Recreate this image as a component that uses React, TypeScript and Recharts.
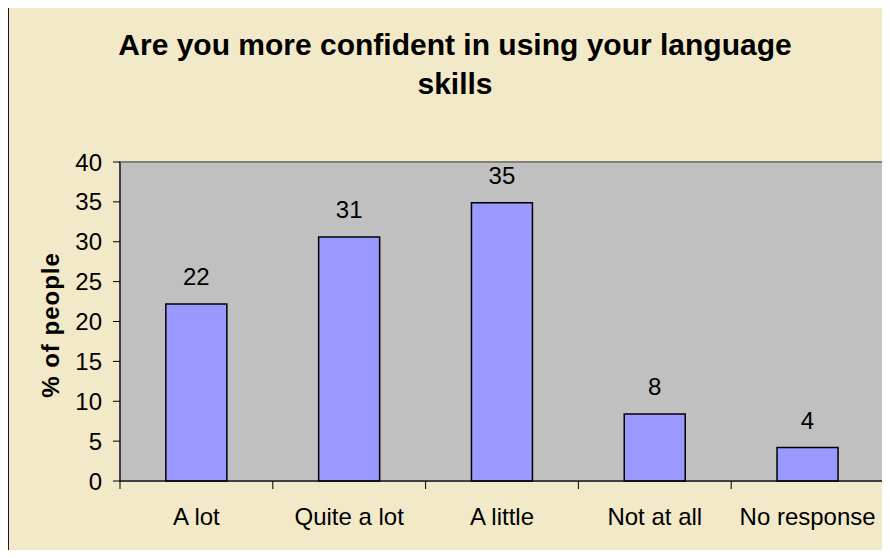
import React from "react";
import {
  BarChart,
  Bar,
  XAxis,
  YAxis,
  CartesianGrid,
  ReferenceArea,
  LabelList,
} from "recharts";

const categories = ["A lot", "Quite a lot", "A little", "Not at all", "No response"];
const percentages = [22.2, 30.6, 34.9, 8.4, 4.2];
const yTicks = [0, 5, 10, 15, 20, 25, 30, 35, 40];

const data = categories.map((name, i) => ({ name, value: percentages[i] }));

const W = 890;
const H = 558;
const margin = { top: 162, right: 6, bottom: 37, left: 60 };
const Y_AXIS_W = 60;
const X_AXIS_H = 40;
const plotW = W - margin.left - margin.right - Y_AXIS_W;
const bandW = plotW / categories.length;

const FONT = "'Liberation Sans', Arial, Helvetica, sans-serif";
const CREAM = "#F2E9C8";
const TEXT_SIZE = 24;

function CategoryTick(props: any) {
  const { x, y, payload, index } = props;
  const left = x - bandW / 2;
  const right = x + bandW / 2;
  return (
    <g>
      <line x1={left} y1={y} x2={left} y2={y + 8} stroke="#000" strokeWidth={1} />
      {index === categories.length - 1 && (
        <line x1={right} y1={y} x2={right} y2={y + 8} stroke="#000" strokeWidth={1} />
      )}
      <text
        x={x}
        y={y + 44}
        textAnchor="middle"
        fill="#000"
        fontSize={TEXT_SIZE}
        fontFamily={FONT}
      >
        {payload.value}
      </text>
    </g>
  );
}

export default function App() {
  return (
    <div
      style={{
        position: "relative",
        width: W,
        height: H,
        margin: -8,
        overflow: "hidden",
        background: "#fff",
        fontFamily: FONT,
      }}
    >
      <div
        style={{
          position: "absolute",
          left: 7,
          top: 5,
          width: 920,
          height: 600,
          background: CREAM,
          border: "2px solid #1a1a1a",
        }}
      />
      <div
        style={{
          position: "absolute",
          left: 0,
          width: W,
          top: 25,
          textAlign: "center",
          paddingLeft: 20,
          boxSizing: "border-box",
          fontWeight: "bold",
          fontSize: 30,
          lineHeight: "39px",
          color: "#000",
        }}
      >
        Are you more confident in using your language
        <br />
        skills
      </div>
      <div
        style={{
          position: "absolute",
          left: 51,
          top: 325,
          transform: "translate(-50%, -50%) rotate(-90deg)",
          whiteSpace: "nowrap",
          fontWeight: "bold",
          fontSize: 24,
          letterSpacing: 1,
          color: "#000",
        }}
      >
        % of people
      </div>
      <div style={{ position: "absolute", left: 0, top: 0 }}>
        <BarChart width={W} height={H} data={data} margin={margin} barCategoryGap="30%">
          <CartesianGrid horizontal={false} vertical={false} fill="#C0C0C0" />
          <ReferenceArea
            y1={0}
            y2={40}
            fill="none"
            stroke="#808080"
            strokeWidth={2}
            ifOverflow="visible"
          />
          <XAxis
            dataKey="name"
            height={X_AXIS_H}
            tickLine={false}
            tickSize={0}
            tickMargin={0}
            axisLine={{ stroke: "#000", strokeWidth: 1 }}
            tick={<CategoryTick />}
            interval={0}
          />
          <YAxis
            width={Y_AXIS_W}
            domain={[0, 40]}
            ticks={yTicks}
            interval={0}
            tickSize={7}
            tickMargin={11}
            axisLine={{ stroke: "#000", strokeWidth: 1 }}
            tickLine={{ stroke: "#000" }}
            tick={{ fill: "#000", fontSize: TEXT_SIZE, fontFamily: FONT }}
          />
          <Bar
            dataKey="value"
            fill="#9999FF"
            stroke="#000"
            strokeWidth={1.5}
            isAnimationActive={false}
          >
            <LabelList
              dataKey="value"
              position="top"
              offset={19}
              formatter={(v: any) => Math.round(Number(v))}
              fill="#000"
              fontSize={TEXT_SIZE}
              fontFamily={FONT}
            />
          </Bar>
        </BarChart>
      </div>
    </div>
  );
}
